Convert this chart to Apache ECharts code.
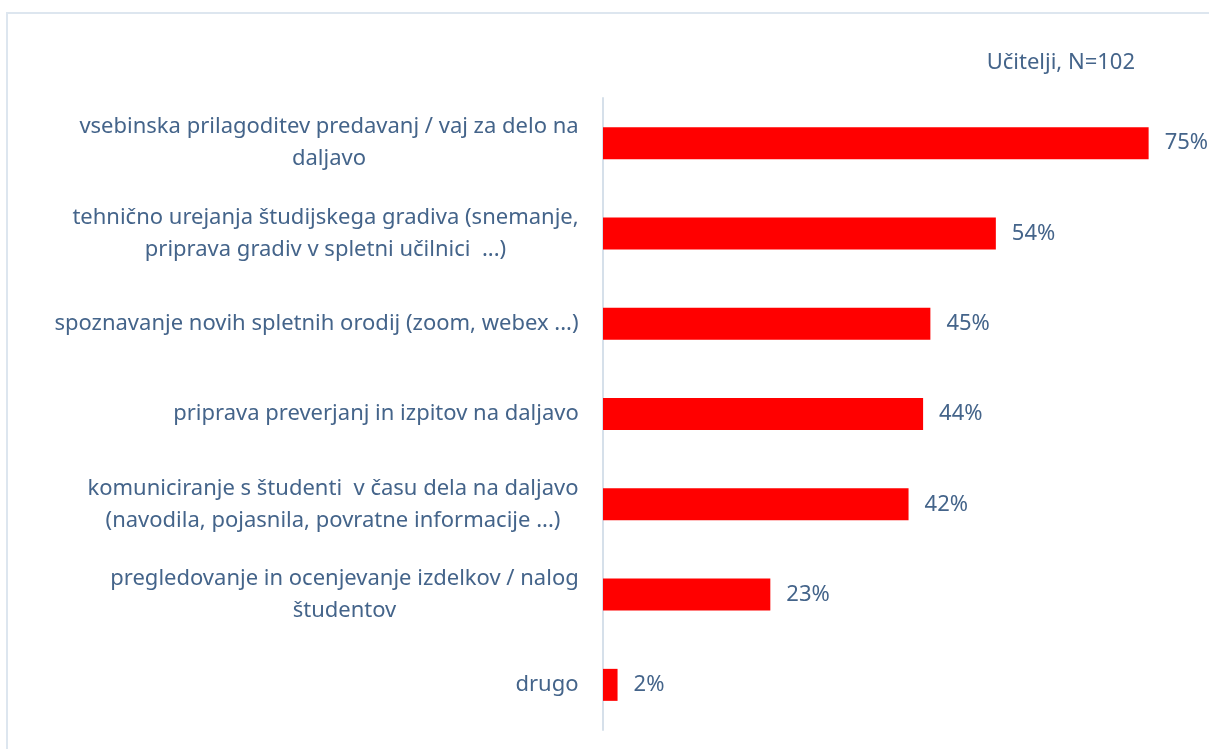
<!DOCTYPE html>
<html>
<head>
<meta charset="utf-8">
<script src="https://cdn.jsdelivr.net/npm/echarts@6/dist/echarts.min.js"></script>
<style>
  html, body { margin: 0; padding: 0; background: #fff; }
  #main { width: 1209px; height: 749px; }
</style>
</head>
<body>
<div id="main"></div>
<script>
// kategorije (od zgoraj navzdol)
var categories = [
  'vsebinska prilagoditev predavanj / vaj za delo na\ndaljavo',
  'tehnično urejanja študijskega gradiva (snemanje,\npriprava gradiv v spletni učilnici  ...)',
  'spoznavanje novih spletnih orodij (zoom, webex ...)',
  'priprava preverjanj in izpitov na daljavo',
  'komuniciranje s študenti  v času dela na daljavo\n(navodila, pojasnila, povratne informacije ...)',
  'pregledovanje in ocenjevanje izdelkov / nalog\nštudentov',
  'drugo'
];
var values = [75, 54, 45, 44, 42, 23, 2];
var titleText = 'Učitelji, N=102';

var textColor = '#44648a';
var fontFam = '"Noto Sans", sans-serif';
var fontSize = 22;

// širina bloka za sredinsko poravnavo vrstic
var ctx = document.createElement('canvas').getContext('2d');
ctx.font = fontSize + 'px ' + fontFam;
var rich = {};
categories.forEach(function (c, i) {
  var w = 0;
  c.split('\n').forEach(function (l) { w = Math.max(w, ctx.measureText(l).width); });
  rich['r' + i] = { width: Math.ceil(w), align: 'center', color: textColor, fontSize: fontSize, fontFamily: fontFam, lineHeight: 32 };
});

var myChart = echarts.init(document.getElementById('main'));
myChart.setOption({
  animation: false,
  title: {
    text: titleText,
    right: 69,
    top: 47,
    textStyle: { color: textColor, fontSize: fontSize, fontWeight: 'normal', fontFamily: fontFam }
  },
  graphic: [{
    type: 'rect',
    shape: { x: 7, y: 13, width: 1220, height: 760 },
    style: { fill: 'none', stroke: '#dde6ef', lineWidth: 2 },
    silent: true
  }],
  grid: { left: 603, right: 24, top: 98, bottom: 19 },
  xAxis: {
    type: 'value',
    min: 0,
    max: 80,
    show: false
  },
  yAxis: {
    type: 'category',
    inverse: true,
    data: categories,
    axisLine: { show: true, lineStyle: { color: '#d6e0ea', width: 2 } },
    axisTick: { show: false },
    axisLabel: {
      margin: 24,
      formatter: function (v, i) {
        return v.split('\n').map(function (l) { return '{r' + i + '|' + l + '}'; }).join('\n');
      },
      rich: rich
    }
  },
  series: [{
    type: 'bar',
    data: values,
    barWidth: 32,
    itemStyle: { color: '#ff0000' },
    label: {
      show: true,
      position: 'right',
      distance: 16,
      formatter: '{c}%',
      color: textColor,
      fontSize: fontSize,
      fontFamily: fontFam
    }
  }]
});
</script>
</body>
</html>
